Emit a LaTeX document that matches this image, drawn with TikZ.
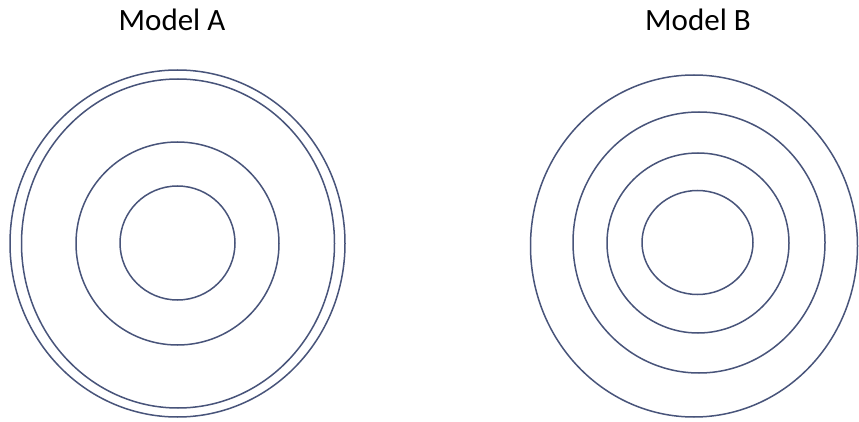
\documentclass[tikz,border=0pt]{standalone}
\usepackage{fontspec}
\setmainfont{Carlito}
\definecolor{ringcol}{RGB}{72,84,122}
\begin{document}
\begin{tikzpicture}[x=1pt,y=-1pt,
  ring/.style={draw=ringcol,line width=1.5pt},
  title/.style={font=\fontsize{31}{36}\selectfont,text=black,inner sep=0pt,anchor=base}]
\useasboundingbox[fill=white] (0,0) rectangle (859,422);
% Model A
\node[title] (ta) at (172,31) {Model A};
\draw[ring] (177.5,243.5) ellipse [x radius=167.5, y radius=173.5];
\draw[ring] (178,243.5) ellipse [x radius=156.5, y radius=164.5];
\draw[ring] (177.5,243.5) ellipse [x radius=101.5, y radius=101.5];
\draw[ring] (177.5,243) ellipse [x radius=57.5, y radius=57];
% Model B
\node[title] (tb) at (698,31) {Model B};
\draw[ring] (694,246) ellipse [x radius=163.5, y radius=171];
\draw[ring] (699,242.5) ellipse [x radius=126, y radius=130.5];
\draw[ring] (698,243) ellipse [x radius=91, y radius=90];
\draw[ring] (697.5,242.5) ellipse [x radius=55.5, y radius=52];
\end{tikzpicture}
\end{document}
